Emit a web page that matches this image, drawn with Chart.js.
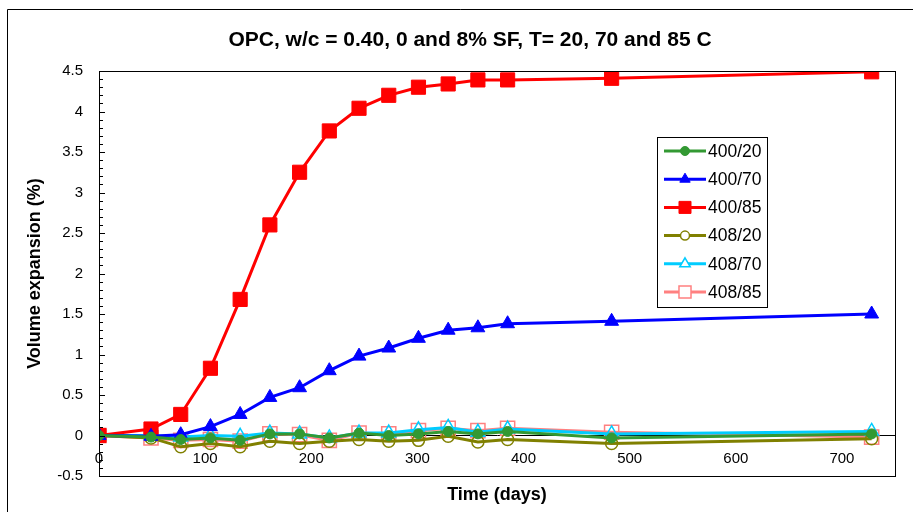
<!DOCTYPE html>
<html>
<head>
<meta charset="utf-8">
<script src="https://cdn.jsdelivr.net/npm/chart.js@4.4.0/dist/chart.umd.min.js"></script>
<style>
  html, body { margin: 0; padding: 0; background: #fff; }
  #wrap { width: 913px; height: 512px; }
</style>
</head>
<body>
<div id="wrap"><canvas id="chart" width="913" height="512"></canvas></div>
<script>
const days = [0, 49, 77, 105, 133, 161, 189, 217, 245, 273, 301, 329, 357, 385, 483, 728];
const s400_20 = [0, -0.02, -0.05, -0.03, -0.06, 0.02, 0.02, -0.03, 0.03, 0.0, 0.02, 0.05, 0.02, 0.05, -0.03, 0.02];
const s400_70 = [0, -0.01, 0.01, 0.11, 0.26, 0.47, 0.59, 0.8, 0.98, 1.08, 1.2, 1.3, 1.33, 1.38, 1.41, 1.5];
const s400_85 = [0, 0.08, 0.26, 0.83, 1.68, 2.6, 3.25, 3.76, 4.04, 4.2, 4.3, 4.34, 4.39, 4.39, 4.41, 4.49];
const s408_20 = [0, -0.03, -0.14, -0.1, -0.14, -0.07, -0.1, -0.07, -0.05, -0.07, -0.06, -0.01, -0.08, -0.05, -0.1, -0.04];
const s408_70 = [0, 0.0, -0.02, 0.0, -0.01, 0.03, 0.02, -0.03, 0.03, 0.03, 0.07, 0.1, 0.04, 0.08, 0.02, 0.05];
const s408_85 = [0, -0.03, -0.06, -0.05, -0.07, 0.02, 0.01, -0.06, 0.03, 0.02, 0.06, 0.09, 0.06, 0.09, 0.04, -0.02];

const titleText = "OPC, w/c = 0.40, 0 and 8% SF, T= 20, 70 and 85 C";
const FONT = "'Liberation Sans', Arial, sans-serif";

function series(label, values, color, style, radius, legendRadius, filled) {
  return {
    label: label,
    data: days.map((d, i) => ({ x: d, y: values[i] })),
    borderColor: color,
    backgroundColor: filled ? color : "rgba(255,255,255,0)",
    pointBackgroundColor: filled ? color : "rgba(255,255,255,0)",
    pointBorderColor: color,
    pointBorderWidth: filled ? 1 : 1.5,
    pointStyle: style,
    pointRadius: radius,
    legendRadius: legendRadius,
    borderWidth: 3,
    tension: 0
  };
}

const datasets = [
  series("400/20", s400_20, "#339933", "circle", 5, 4.5, true),
  series("400/70", s400_70, "#0000ff", "triangle", 8, 6, true),
  series("400/85", s400_85, "#ff0000", "rect", 10, 8.5, true),
  series("408/20", s408_20, "#808000", "circle", 6, 4.5, false),
  series("408/70", s408_70, "#00ccff", "triangle", 8, 6, false),
  series("408/85", s408_85, "#ff8080", "rect", 10, 8.5, false)
];

// frame, outer border, title, inward y ticks, legend box
const decor = {
  id: "decor",
  afterDraw(chart) {
    const ctx = chart.ctx;
    const a = chart.chartArea;
    const y = chart.scales.y;
    ctx.save();
    ctx.strokeStyle = "#000";
    ctx.lineWidth = 1;
    // outer border
    ctx.beginPath();
    ctx.moveTo(7.5, 512);
    ctx.lineTo(7.5, 9.5);
    ctx.lineTo(913, 9.5);
    ctx.stroke();
    // plot frame
    ctx.strokeRect(Math.round(a.left) + 0.5, Math.round(a.top) + 0.5,
      Math.round(a.right - a.left), Math.round(a.bottom - a.top));
    // inward ticks on y axis
    ctx.beginPath();
    for (let v = -5; v <= 45; v++) {
      const py = Math.round(y.getPixelForValue(v / 10)) + 0.5;
      const len = v % 5 === 0 ? 6 : 4;
      ctx.moveTo(a.left, py);
      ctx.lineTo(a.left + len, py);
    }
    ctx.stroke();
    // title
    ctx.fillStyle = "#000";
    ctx.font = "bold 21px " + FONT;
    ctx.textAlign = "center";
    ctx.textBaseline = "middle";
    ctx.fillText(titleText, 470, 40);
    // legend
    const w = a.right - a.left, h = a.bottom - a.top;
    const bx = Math.round(a.left + w * 0.701), by = Math.round(a.top + h * 0.163);
    const bw = 110, bh = 170;
    ctx.fillStyle = "#fff";
    ctx.fillRect(bx, by, bw, bh);
    ctx.strokeRect(bx + 0.5, by + 0.5, bw, bh);
    ctx.font = "17.5px " + FONT;
    ctx.textAlign = "left";
    chart.data.datasets.forEach((ds, i) => {
      const cy = by + 14 + i * 28.2;
      ctx.strokeStyle = ds.borderColor;
      ctx.lineWidth = 3;
      ctx.beginPath();
      ctx.moveTo(bx + 7, cy);
      ctx.lineTo(bx + 49, cy);
      ctx.stroke();
      ctx.fillStyle = ds.pointBackgroundColor.indexOf("rgba") === 0 ? "#fff" : ds.pointBackgroundColor;
      ctx.strokeStyle = ds.pointBorderColor;
      ctx.lineWidth = ds.pointBorderWidth;
      Chart.helpers.drawPoint(ctx, { pointStyle: ds.pointStyle, radius: ds.legendRadius, rotation: 0, borderWidth: ds.pointBorderWidth }, bx + 28, cy);
      ctx.fillStyle = "#000";
      ctx.fillText(ds.label, bx + 51, cy + 1);
    });
    ctx.restore();
  }
};

const ctx = document.getElementById("chart").getContext("2d");
new Chart(ctx, {
  type: "line",
  data: { datasets: datasets },
  options: {
    responsive: false,
    animation: false,
    layout: { padding: { left: 0, right: 18, top: 71, bottom: 0 } },
    plugins: {
      legend: { display: false },
      title: { display: false },
      tooltip: { enabled: false }
    },
    scales: {
      x: {
        type: "linear",
        position: { y: 0 },
        min: 0,
        max: 750,
        grid: { display: false },
        border: { display: true, color: "#000", width: 1 },
        ticks: {
          stepSize: 100,
          includeBounds: false,
          padding: 6,
          color: "#000",
          font: { size: 15, family: FONT }
        }
      },
      xb: {
        type: "linear",
        position: "bottom",
        min: 0,
        max: 750,
        grid: { display: false },
        border: { display: false },
        ticks: { display: false },
        title: {
          display: true,
          text: "Time (days)",
          color: "#000",
          padding: { top: 0, bottom: 6 },
          font: { size: 18, weight: "bold", family: FONT }
        },
        afterFit(scale) { scale.height = 36; }
      },
      y: {
        type: "linear",
        min: -0.5,
        max: 4.5,
        grid: { display: false },
        border: { display: true, color: "#000", width: 1 },
        ticks: {
          stepSize: 0.5,
          padding: 8,
          color: "#000",
          font: { size: 15, family: FONT },
          callback: v => String(Math.round(v * 10) / 10)
        },
        title: {
          display: true,
          text: "Volume expansion (%)",
          color: "#000",
          padding: { top: 24, bottom: 0 },
          font: { size: 18, weight: "bold", family: FONT }
        },
        afterFit(scale) { scale.width = 99; }
      }
    }
  },
  plugins: [decor]
});
</script>
</body>
</html>
